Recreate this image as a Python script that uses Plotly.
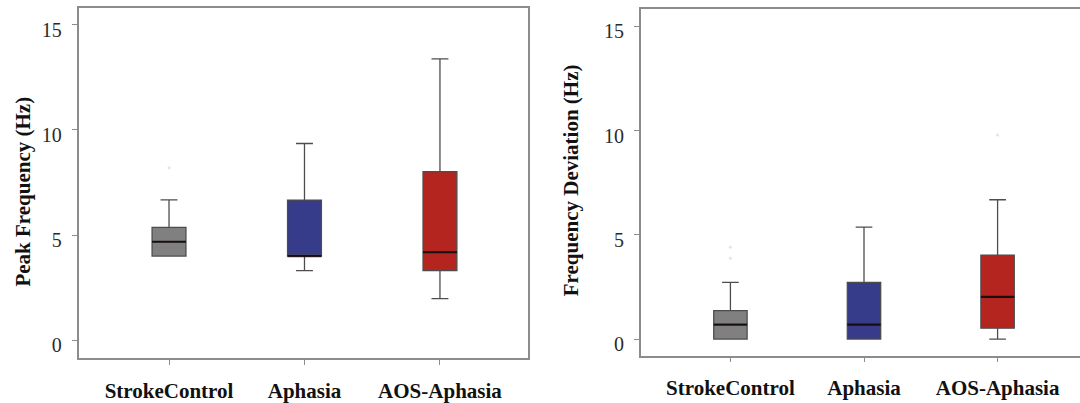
import plotly.graph_objects as go

# ---------------- data ----------------
categories = ["StrokeControl", "Aphasia", "AOS-Aphasia"]
box_colors = ["#808080", "#363b8a", "#b42520"]

# Peak Frequency (Hz)
peak_lower = [4.0, 3.31, 1.98]
peak_q1 = [4.0, 4.0, 3.31]
peak_median = [4.68, 4.0, 4.18]
peak_q3 = [5.36, 6.66, 8.01]
peak_upper = [6.67, 9.35, 13.37]
peak_outlier_cat = ["StrokeControl"]
peak_outlier_val = [8.2]

# Frequency Deviation (Hz)
dev_lower = [0.0, 0.0, 0.0]
dev_q1 = [0.0, 0.0, 0.52]
dev_median = [0.69, 0.69, 2.02]
dev_q3 = [1.36, 2.72, 4.03]
dev_upper = [2.72, 5.37, 6.68]
dev_outlier_cat = ["StrokeControl", "StrokeControl", "AOS-Aphasia"]
dev_outlier_val = [3.87, 4.4, 9.79]

y_tick_vals = [0, 5, 10, 15]
y_tick_text = ["0", "5", "10", "15"]
titles = ["Peak Frequency (Hz)", "Frequency Deviation (Hz)"]

FONT = "Liberation Serif, Times New Roman, serif"
BOX_W = 0.25

fig = go.Figure()


def add_panel(xa, ya, lower, q1, med, q3, upper, ocat, oval):
    for i, cat in enumerate(categories):
        fig.add_trace(go.Box(
            x=[cat], q1=[q1[i]], median=[med[i]], q3=[q3[i]],
            lowerfence=[lower[i]], upperfence=[upper[i]],
            width=BOX_W, whiskerwidth=0.5,
            fillcolor=box_colors[i],
            line=dict(color="#4d4d4d", width=1.3),
            boxpoints=False, showlegend=False, hoverinfo="skip",
            xaxis=xa, yaxis=ya,
        ))
        # dark median line
        fig.add_trace(go.Box(
            x=[cat], q1=[med[i]], median=[med[i]], q3=[med[i]],
            lowerfence=[med[i]], upperfence=[med[i]],
            width=BOX_W, whiskerwidth=0,
            fillcolor="rgba(0,0,0,0)",
            line=dict(color="rgba(10,0,0,0.8)", width=2.2),
            boxpoints=False, showlegend=False, hoverinfo="skip",
            xaxis=xa, yaxis=ya,
        ))
    fig.add_trace(go.Scatter(
        x=ocat, y=oval, mode="markers",
        marker=dict(color="#e4e4e4", size=3),
        showlegend=False, hoverinfo="skip", xaxis=xa, yaxis=ya,
    ))


add_panel("x", "y", peak_lower, peak_q1, peak_median, peak_q3, peak_upper,
          peak_outlier_cat, peak_outlier_val)
add_panel("x2", "y2", dev_lower, dev_q1, dev_median, dev_q3, dev_upper,
          dev_outlier_cat, dev_outlier_val)

line_col = "#8c8c8c"
xcommon = dict(
    type="category", categoryorder="array", categoryarray=categories,
    showline=True, linecolor=line_col, linewidth=1.5, mirror=True,
    ticks="outside", ticklen=5, tickcolor=line_col, tickwidth=1.2,
    showgrid=False, zeroline=False,
    tickfont=dict(family=FONT, size=21, color="#111111", weight="bold"),
    ticklabelstandoff=8,
)
ycommon = dict(
    showline=True, linecolor=line_col, linewidth=1.5,
    ticks="outside", ticklen=5, tickcolor=line_col, tickwidth=1.2,
    showgrid=False, zeroline=False,
    tickvals=y_tick_vals, ticktext=y_tick_text,
    tickfont=dict(family=FONT, size=20, color="#2a2a2a"),
    ticklabelstandoff=6, ticklabelshift=5,
)

fig.update_layout(
    width=1080, height=403,
    margin=dict(l=0, r=0, t=0, b=0),
    paper_bgcolor="white", plot_bgcolor="white",
    boxmode="overlay",
    xaxis=dict(domain=[0.0727, 0.4889], range=[-0.668, 2.65], anchor="y", **xcommon),
    yaxis=dict(domain=[0.10, 0.9794], range=[-0.855, 15.78], anchor="x", mirror=True, **ycommon),
    xaxis2=dict(domain=[0.5932, 1.0], range=[-0.672, 2.617], anchor="y2", **xcommon),
    yaxis2=dict(domain=[0.1067, 0.9769], range=[-0.79, 15.82], anchor="x2", mirror=False, **ycommon),
    annotations=[
        dict(text=titles[0], xref="paper", yref="paper", x=0.0213, y=0.5186,
             textangle=-90, showarrow=False, xanchor="center", yanchor="middle",
             font=dict(family=FONT, size=21, color="#111111", weight="bold")),
        dict(text=titles[1], xref="paper", yref="paper", x=0.5287, y=0.547,
             textangle=-90, showarrow=False, xanchor="center", yanchor="middle",
             font=dict(family=FONT, size=21, color="#111111", weight="bold")),
    ],
)

fig.write_html("out.html")
